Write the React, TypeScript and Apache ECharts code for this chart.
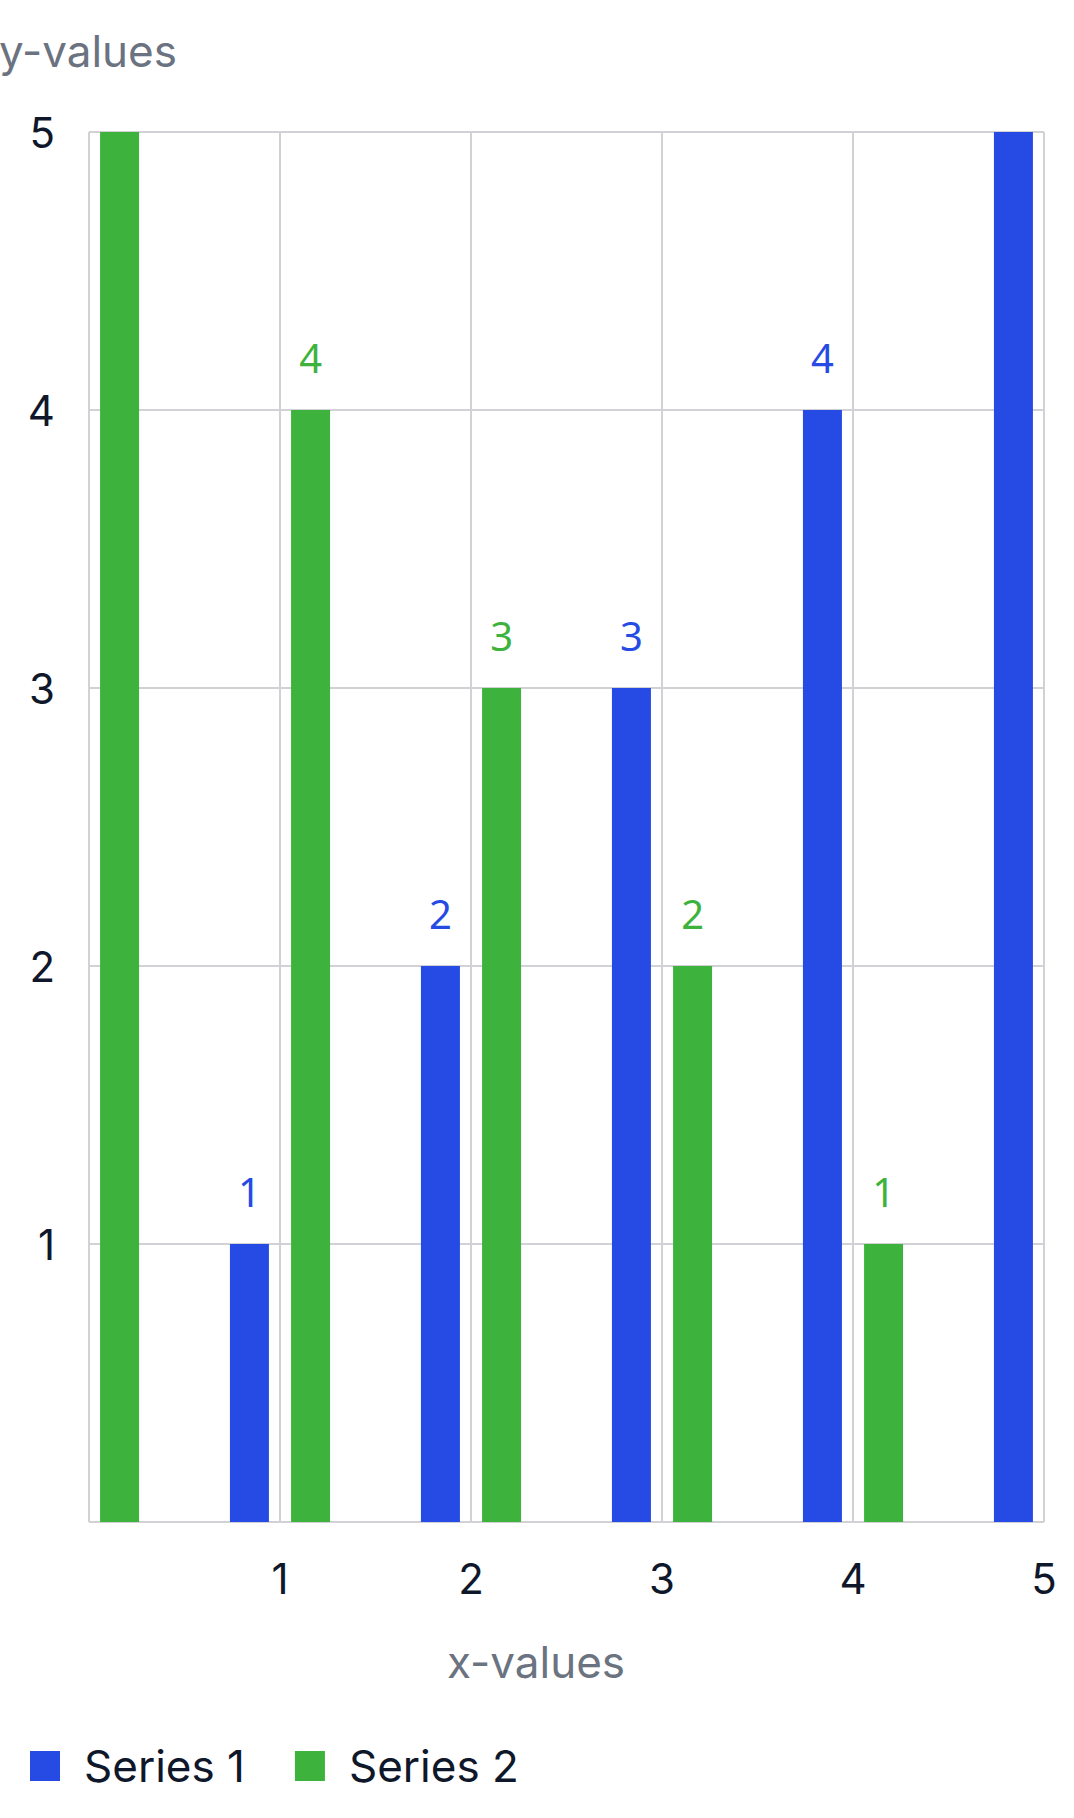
import React, { useEffect, useRef } from "react";
import * as echarts from "echarts";

const categories = ["1", "2", "3", "4", "5"];
const series1Values = [1, 2, 3, 4, 5];
const series2Values = [5, 4, 3, 2, 1];
const seriesNames = ["Series 1", "Series 2"];
const yMin = 0;
const yMax = 5;
const xMin = 0;
const xMax = 5;

const BLUE = "#264BE4";
const GREEN = "#3DB33D";
const TEXT = "#0f172a";
const MUTED = "#6b7280";
const GRIDC = "#d1d1d6";
const FONT = "Inter, 'Noto Sans', sans-serif";

function toData(values: number[]) {
  return values.map((v) => ({ value: v, label: { show: v < yMax } }));
}

export default function App() {
  const ref = useRef<HTMLDivElement>(null);
  useEffect(() => {
    if (!ref.current) return;
    const chart = echarts.init(ref.current, null, { renderer: "svg" });
    const labelStyle = (color: string) => ({
      show: true,
      position: "top" as const,
      distance: 33,
      color,
      fontSize: 40,
      fontFamily: "'Noto Sans', sans-serif",
    });
    chart.setOption({
      animation: false,
      grid: { left: 89, right: 30, top: 132, bottom: 296, containLabel: false },
      legend: {
        data: seriesNames,
        left: 30,
        top: 1744,
        padding: 0,
        icon: "rect",
        itemWidth: 30,
        itemHeight: 30,
        itemGap: 50,
        textStyle: { fontSize: 44, color: TEXT, fontFamily: FONT, padding: [0, 0, 0, 19] },
      },
      xAxis: [
        {
          type: "category",
          data: categories,
          position: "top",
          show: false,
        },
        {
          type: "value",
          position: "bottom",
          min: xMin,
          max: xMax,
          interval: 1,
          axisLine: { show: false },
          axisTick: { show: false },
          axisLabel: {
            showMinLabel: false,
            margin: 35,
            fontSize: 42,
            color: TEXT,
            fontFamily: FONT,
          },
          splitLine: { show: true, lineStyle: { color: GRIDC, width: 2 } },
        },
      ],
      yAxis: {
        type: "value",
        min: yMin,
        max: yMax,
        interval: 1,
        axisLine: { show: false },
        axisTick: { show: false },
        axisLabel: {
          showMinLabel: false,
          margin: 34,
          fontSize: 42,
          color: TEXT,
          fontFamily: FONT,
        },
        splitLine: { show: true, lineStyle: { color: GRIDC, width: 2 } },
      },
      graphic: [
        {
          type: "text",
          x: -1,
          y: 51,
          style: {
            text: "y-values",
            font: `44px ${FONT}`,
            fill: MUTED,
            align: "left",
            verticalAlign: "middle",
          },
        },
        {
          type: "text",
          x: 536,
          y: 1662,
          style: {
            text: "x-values",
            font: `44px ${FONT}`,
            fill: MUTED,
            align: "center",
            verticalAlign: "middle",
          },
        },
      ],
      series: [
        {
          name: seriesNames[1],
          type: "bar",
          xAxisIndex: 0,
          yAxisIndex: 0,
          data: toData(series2Values),
          barWidth: 39,
          barGap: "233%",
          itemStyle: { color: GREEN },
          label: labelStyle(GREEN),
        },
        {
          name: seriesNames[0],
          type: "bar",
          xAxisIndex: 0,
          yAxisIndex: 0,
          data: toData(series1Values),
          barWidth: 39,
          barGap: "233%",
          itemStyle: { color: BLUE },
          label: labelStyle(BLUE),
        },
      ],
    });
    return () => chart.dispose();
  }, []);
  return (
    <div
      ref={ref}
      style={{ position: "fixed", left: 0, top: 0, width: 1074, height: 1818, background: "#fff" }}
    />
  );
}
